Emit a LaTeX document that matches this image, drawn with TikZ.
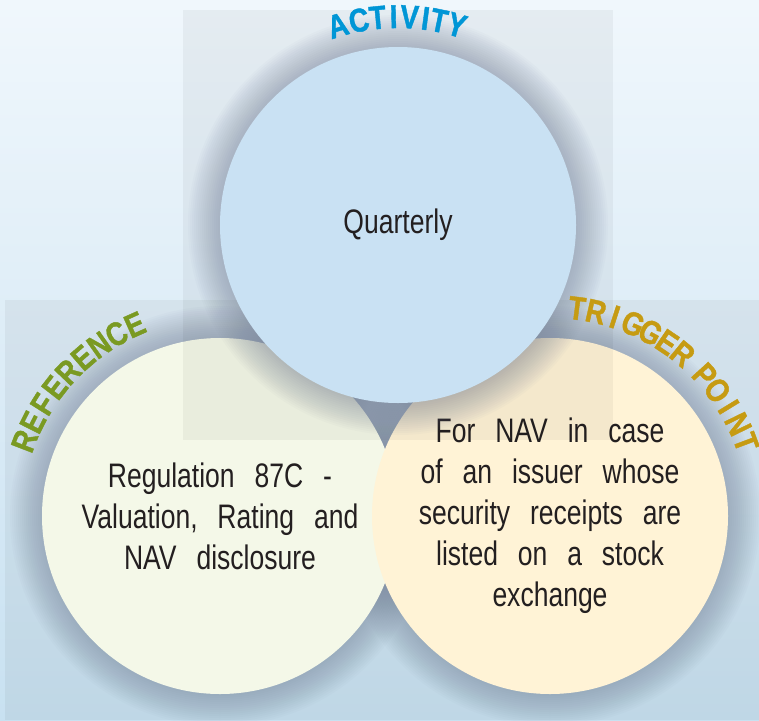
\documentclass[tikz,border=0pt]{standalone}
\usepackage{fontspec}
\newfontfamily\bodyfont[FakeStretch=0.78, WordSpace=2.7]{Liberation Sans}
\newfontfamily\headfont[FakeStretch=0.84, FakeBold=1.2]{Liberation Sans Bold}
\definecolor{skytop}{RGB}{240, 247, 252}
\definecolor{skymid}{RGB}{228, 240, 249}
\definecolor{skybot}{RGB}{200, 225, 241}
\definecolor{haze}{RGB}{110, 122, 145}
\definecolor{ink}{RGB}{35, 31, 32}
\definecolor{actfill}{RGB}{201, 225, 243}
\definecolor{reffill}{RGB}{244, 248, 232}
\definecolor{trigfill}{RGB}{255, 243, 214}
\definecolor{actblue}{RGB}{0, 150, 214}
\definecolor{refgreen}{RGB}{122, 154, 34}
\definecolor{triggold}{RGB}{198, 155, 18}
\tikzset{
  % Filled disc carrying the body text (#1 = fill).
  bubble/.style={
    circle, fill=#1, minimum size=356pt, inner sep=0pt,
    align=center, text=ink,
    font=\bodyfont\fontsize{34}{41}\selectfont,
  },
  % Soft grey halo, stacked in rings.
  halo/.style={fill=haze, opacity=0.03},
  % Faint backdrop panels.
  panel/.style={fill=black, opacity=0.045},
  % One letter of a heading bent round a disc.
  arc-letter/.style={
    font=\headfont\fontsize{33}{33}\selectfont,
    inner sep=0pt, anchor=base, text=#1,
  },
}
\begin{document}
\begin{tikzpicture}[x=1pt, y=1pt]
  \useasboundingbox (0,0) rectangle (759,-720);

  % Backdrop.
  \shade[top color=skytop, middle color=skymid, bottom color=skybot]
    (0,0) rectangle (759,-720);
  \fill[panel] (5,-300) rectangle (759,-720);

  % Lower pair, with halos.
  \foreach \cx in {220, 550}
    \foreach \d in {2,4,...,32}
      \fill[halo] (\cx,-516) circle (178+\d);
  \node[bubble=reffill] (ref) at (220,-516)
    {Regulation 87C -\\Valuation, Rating and\\NAV disclosure};
  \node[bubble=trigfill] (trig) at (550,-516)
    {For NAV in case\\of an issuer whose\\security receipts are\\listed on a stock\\exchange};
  \fill[panel] (183,-10) rectangle (613,-440);

  % Top disc.
  \foreach \d in {2,4,...,32}
    \fill[halo] (398,-225) circle (178+\d);
  \node[bubble=actfill] (act) at (398,-225) {Quarterly};

  % Headings, letter by letter round the discs.
  \foreach \ch/\a [count=\k] in {A/106.8, C/100.8, T/95.6, I/91.2,
                                 V/86.8, I/82.4, T/78.6, Y/73.6}
    \node[arc-letter=actblue, rotate=\a-90] (act-l\k)
      at ([shift={(\a:197pt)}]act.center) {\ch};
  \foreach \ch [count=\k from 0] in {R,E,F,E,R,E,N,C,E}
    \node[arc-letter=refgreen, rotate=69-\k*5.625] (ref-l\k)
      at ([shift={(159-\k*5.625:198pt)}]ref.center) {\ch};
  \foreach \ch [count=\k from 0] in {T,R,I,G,G,E,R}
    \node[arc-letter=triggold, rotate=-7.4-\k*5.32] (trig-a\k)
      at ([shift={(82.6-\k*5.32:198pt)}]trig.center) {\ch};
  \foreach \ch [count=\k from 0] in {P,O,I,N,T}
    \node[arc-letter=triggold, rotate=-47.7-\k*5.43] (trig-b\k)
      at ([shift={(42.3-\k*5.43:198pt)}]trig.center) {\ch};

\end{tikzpicture}
\end{document}
